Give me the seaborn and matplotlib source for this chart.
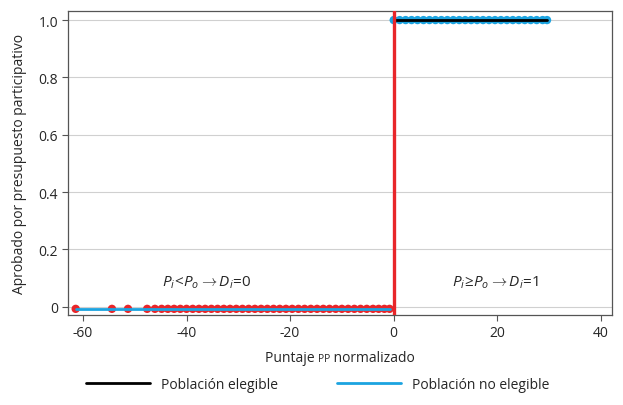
import matplotlib
matplotlib.use("Agg")
import matplotlib.pyplot as plt
import seaborn as sns
import pandas as pd
from matplotlib.lines import Line2D
from matplotlib.offsetbox import TextArea, HPacker, AnnotationBbox

# ---- data ----
x_below = [-61.4, -54.4, -51.3, -47.6, -46.1,
           -44.8, -43.6, -42.4, -41.2, -40.0, -38.8, -37.6, -36.4, -35.2, -34.0,
           -32.8, -31.6, -30.4, -29.2, -28.0, -26.8, -25.6, -24.4, -23.2, -22.0,
           -20.8, -19.6, -18.4, -17.2, -16.0, -14.8, -13.6, -12.4, -11.2, -10.0,
           -8.8, -7.6, -6.4, -5.2, -4.0, -2.9, -1.8, -0.8]
y_below = [-0.007] * len(x_below)
x_above = [0.0, 1.15, 2.3, 3.45, 4.6, 5.75, 6.9, 8.05, 9.2, 10.35, 11.5, 12.65,
           13.8, 14.95, 16.1, 17.25, 18.4, 19.55, 20.7, 21.85, 23.0, 24.15, 25.3,
           26.45, 27.6, 28.75, 29.6]
y_above = [1.0] * len(x_above)
cutoff = 0.0
xticks = [-60, -40, -20, 0, 20, 40]
yticks = [0, 0.2, 0.4, 0.6, 0.8, 1.0]
ytick_labels = ["0", "0.2", "0.4", "0.6", "0.8", "1.0"]
legend_labels = ["Población elegible", "Población no elegible"]

RED = "#E8262A"
BLUE = "#1BA3E0"

sns.set_style("white")
plt.rcParams["font.family"] = ["Open Sans", "DejaVu Sans"]
plt.rcParams["mathtext.fontset"] = "custom"
plt.rcParams["mathtext.rm"] = "Open Sans"
plt.rcParams["mathtext.it"] = "Open Sans:italic"

fig = plt.figure(figsize=(6.23, 4.06), dpi=100)
ax = fig.add_axes([0.109, 0.222, 0.873, 0.748])

df_b = pd.DataFrame({"x": x_below, "y": y_below})
df_a = pd.DataFrame({"x": x_above, "y": y_above})

sns.scatterplot(data=df_b, x="x", y="y", ax=ax, color=RED, s=36,
                edgecolor="none", zorder=3)
sns.scatterplot(data=df_a, x="x", y="y", ax=ax, color=BLUE, s=36,
                edgecolor="none", zorder=3)
sns.lineplot(data=df_b, x="x", y="y", ax=ax, color=BLUE, lw=2, zorder=4)
sns.lineplot(data=df_a, x="x", y="y", ax=ax, color="black", lw=2, zorder=4)
ax.axvline(cutoff, color=RED, lw=2.4, zorder=5)

ax.set_xlim(-62.9, 42.1)
ax.set_ylim(-0.028, 1.031)
ax.set_xticks(xticks)
ax.set_xticklabels([str(t) for t in xticks])
ax.set_yticks(yticks)
ax.set_yticklabels(ytick_labels)
ax.yaxis.grid(True, color="#d0d0d0", lw=0.8)
ax.set_axisbelow(True)
for sp in ax.spines.values():
    sp.set_color("#555555")
    sp.set_linewidth(0.9)
ax.tick_params(axis="both", which="major", direction="out", length=4,
               color="#555555", labelsize=10, pad=3, bottom=True, left=True)
ax.set_xlabel("")
ax.set_ylabel("Aprobado por presupuesto participativo", fontsize=10, labelpad=8)

ax.text(-44.8, 0.087, r"$P_i\!<\!P_o \rightarrow D_i\!=\!0$", fontsize=11,
        va="center", ha="left")
ax.text(11.2, 0.087, r"$P_i\!\geq\!P_o \rightarrow D_i\!=\!1$", fontsize=11,
        va="center", ha="left")

# x label with small "PP"
parts = HPacker(children=[TextArea("Puntaje ", textprops=dict(fontsize=10)),
                          TextArea("PP", textprops=dict(fontsize=7.5)),
                          TextArea(" normalizado", textprops=dict(fontsize=10))],
                align="baseline", pad=0, sep=0)
ab = AnnotationBbox(parts, (0.5, -0.14), xycoords="axes fraction",
                    frameon=False, box_alignment=(0.5, 0.5))
ax.add_artist(ab)

handles = [Line2D([], [], color="black", lw=2),
           Line2D([], [], color=BLUE, lw=2)]
fig.legend(handles, legend_labels, loc="center", bbox_to_anchor=(0.51, 0.05),
           ncol=2, frameon=False, fontsize=10, handlelength=4.6,
           columnspacing=4.2, handletextpad=0.8)

fig.savefig("out.png", dpi=100)
